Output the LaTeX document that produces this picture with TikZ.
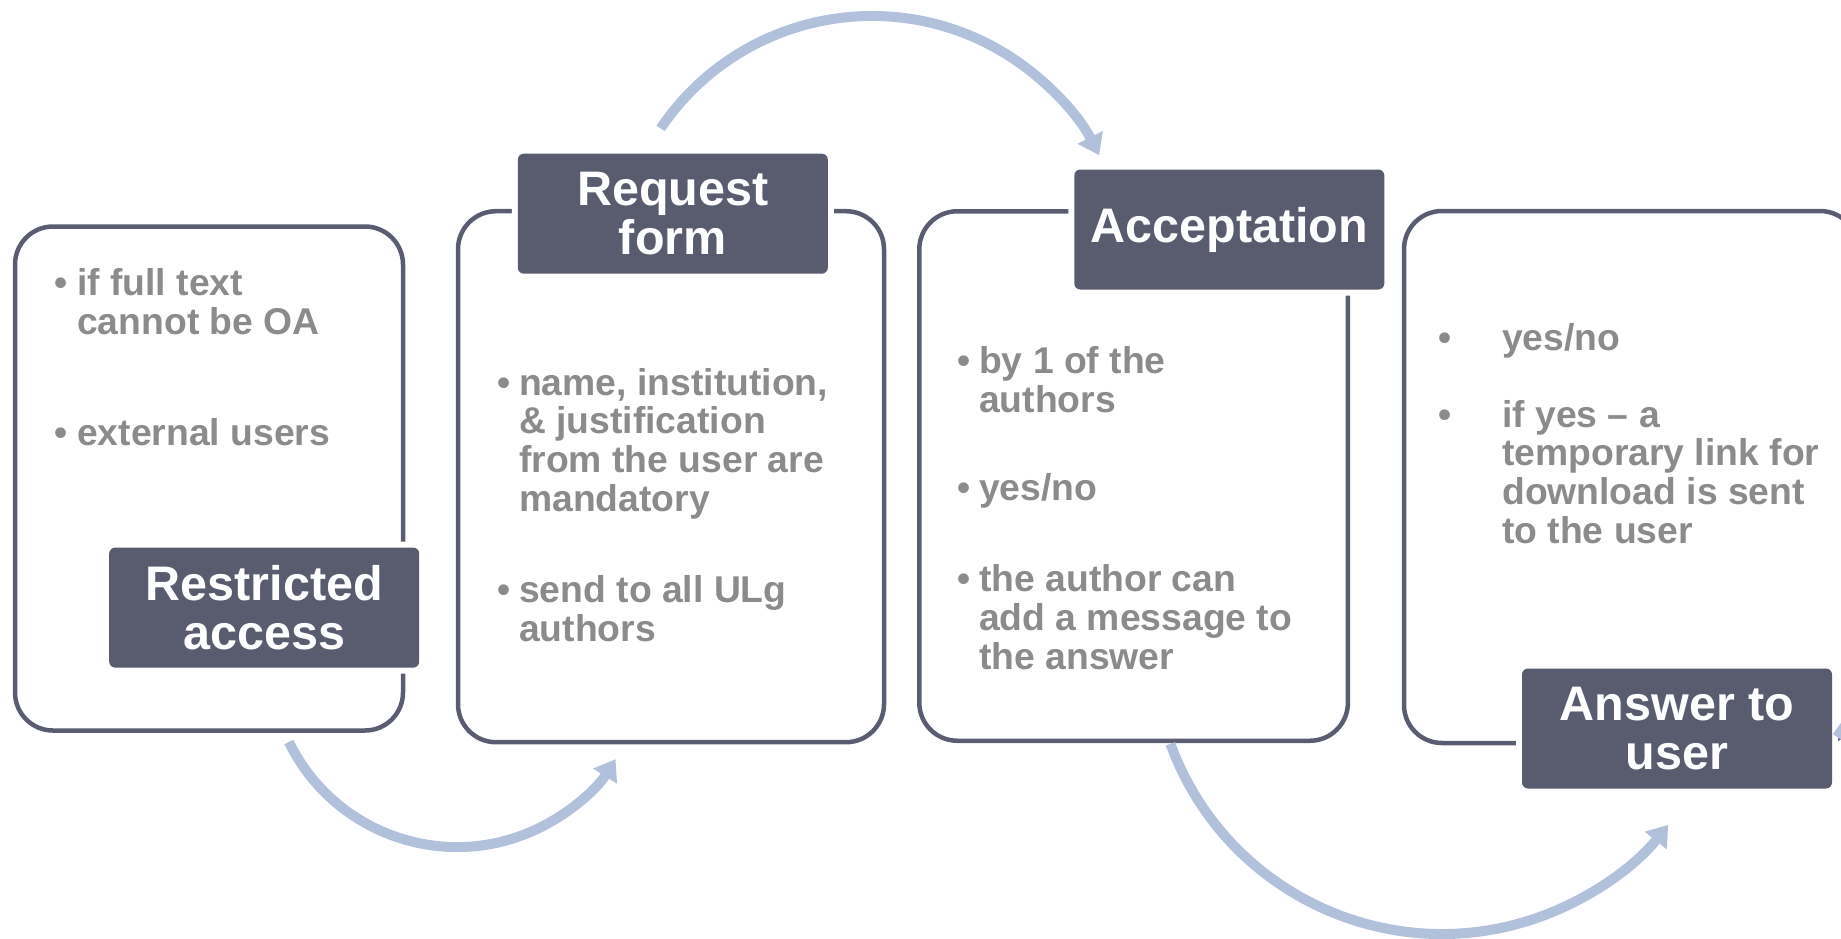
\documentclass[tikz,border=0pt]{standalone}
\usepackage{fontspec}
\setmainfont{Liberation Sans}
\usetikzlibrary{arrows.meta}
\definecolor{slate}{HTML}{595B6E}
\definecolor{framec}{HTML}{5A5D71}
\definecolor{txtgray}{HTML}{8B8B8B}
\definecolor{arrowblue}{HTML}{B1C1DC}
\newcommand{\itemfont}{\fontsize{37.3}{38.6}\selectfont\bfseries}
\newcommand{\titlefont}{\fontsize{48.5}{49}\selectfont\bfseries}
\newcommand{\dotA}{\llap{\textbullet\hspace{10pt}}}
\newcommand{\dotB}{\llap{\textbullet\hspace{9pt}}}
\newcommand{\dotC}{\llap{\textbullet\hspace{50.6pt}}}
\begin{document}
\begin{tikzpicture}[x=1pt, y=-1pt,
  frame/.style={draw=framec, line width=4.5pt, rounded corners=38pt, minimum width=#1, inner sep=0pt, outer sep=0pt},
  title/.style={fill=slate, text=white, font=\titlefont, align=center, rounded corners=6pt, minimum width=310pt, minimum height=120pt, inner sep=0pt, preaction={draw=white, line width=12pt}},
  bullets/.style={text=txtgray, font=\itemfont, align=left, anchor=base west, inner sep=0pt},
  flow/.style={draw=arrowblue, line width=10pt, -{Triangle[length=20pt, width=27pt]}}]
\useasboundingbox (0,0) rectangle (1841,938);
\node[frame=388pt, minimum height=504pt] (f1) at (209,478.5) {};
\node[frame=426pt, minimum height=531pt] (f2) at (671,476.7) {};
\node[frame=428.6pt, minimum height=529.5pt] (f3) at (1133.6,476) {};
\node[frame=454pt, minimum height=532pt] (f4) at (1631,477) {};
\node[title] (restricted) at (264.2,607.6) {Restricted\\access};
\node[title] (request) at (672.8,213.7) {Request\\form};
\node[title] (accept) at (1229.3,229.5) {Acceptation};
\node[title] (answer) at (1677,728.5) {Answer to\\user};
% bullet nodes sit on the baseline of their last line
\node[bullets] (t1a) at (77,334.4) {\dotA if full text\\cannot be OA};
\node[bullets] (t1b) at (77,445) {\dotA external users};
\node[bullets] (t2a) at (519,511) {\dotB name, institution,\\\& justification\\from the user are\\mandatory};
\node[bullets] (t2b) at (519,641) {\dotB send to all ULg\\authors};
\node[bullets] (t3a) at (979,412) {\dotB by 1 of the\\authors};
\node[bullets] (t3b) at (979,500) {\dotB yes/no};
\node[bullets] (t3c) at (979,669) {\dotB the author can\\add a message to\\the answer};
\node[bullets] (t4a) at (1502,350) {\dotC yes/no};
\node[bullets] (t4b) at (1502,543) {\dotC if yes -- a\\temporary link for\\download is sent\\to the user};
\coordinate (s1) at (288.9,742);
\coordinate (s2) at (660.6,128.4);
\coordinate (s3) at (1170.4,743.8);
\coordinate (s4) at (1837,737);
\draw[flow] (s1) arc[start angle=154, end angle=32, radius=187];
\draw[flow] (s2) arc[start angle=214, end angle=333, radius=255];
\draw[flow] (s3) arc[start angle=160, end angle=38.5, radius=289];
\draw[flow, -] (s4) arc[start angle=214, end angle=240, radius=255];
\end{tikzpicture}
\end{document}
